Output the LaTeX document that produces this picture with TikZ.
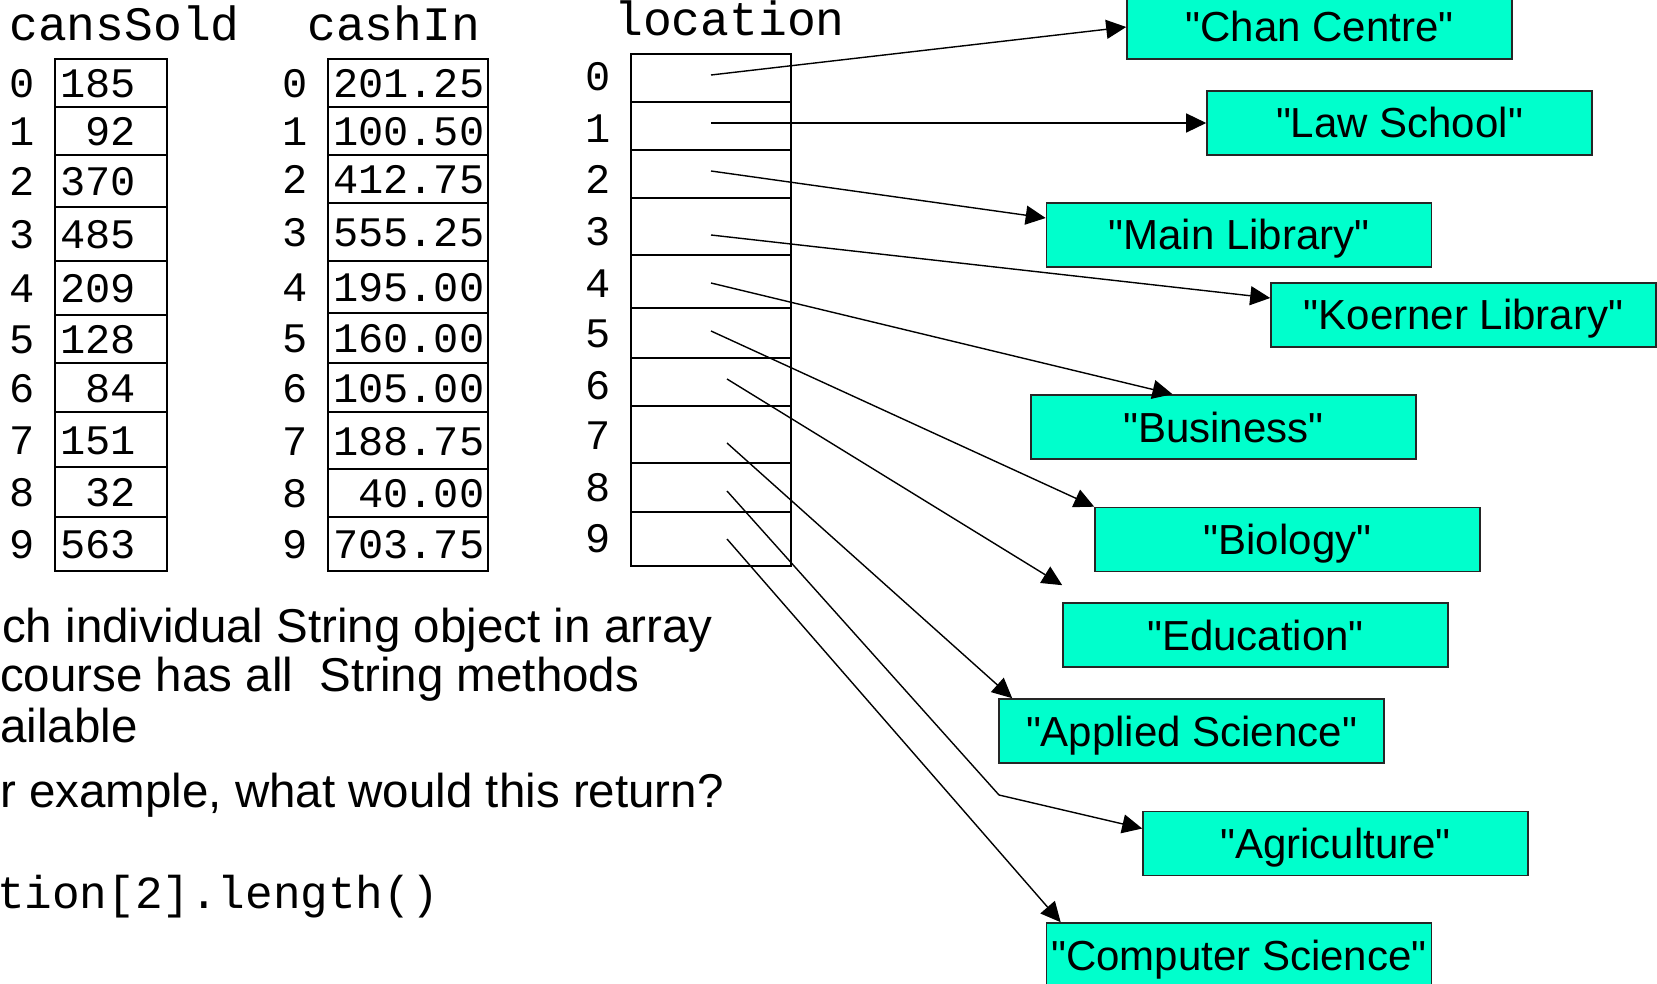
\documentclass[tikz,border=0pt]{standalone}
\usepackage{fontspec}
\setmainfont{Liberation Sans}
\newfontfamily\placef{Liberation Sans}
\newfontfamily\monof{Liberation Mono}
\usetikzlibrary{arrows.meta}
\definecolor{boxgreen}{RGB}{0,255,204}
\begin{document}
\begin{tikzpicture}[x=1pt,y=-1pt,
 every node/.style={inner sep=0pt},
 cellbox/.style={draw=black, line width=1.6pt},
 numtxt/.style={font=\monof\fontsize{42}{48}\selectfont, text height=29pt, text depth=0pt},
 lbl/.style={numtxt, anchor=center},
 title/.style={font=\monof\fontsize{48}{54}\selectfont, anchor=base west},
 place/.style={draw=black!85, line width=1.6pt, fill=boxgreen, minimum width=385pt, minimum height=64pt, font=\placef\fontsize{42}{48}\selectfont, text height=30pt, text depth=0pt},
 arr/.style={line width=1.4pt, -{Triangle[length=20pt,width=19pt]}},
 body/.style={font=\fontsize{47.5}{56}\selectfont, anchor=base west}]
\useasboundingbox (0,0) rectangle (1657,984);

% titles
\node[title] (tcans) at (9,41) {cansSold};
\node[title] (tcash) at (307,41) {cashIn};
\node[title] (tloc) at (614,36) {location};

% cansSold
\foreach \i/\t/\b/\v in {0/59/107/185, 1/107/155/\hphantom{0}92, 2/155/207/370, 3/207/261/485, 4/261/315/209, 5/315/363/128, 6/363/412/\hphantom{0}84, 7/412/467/151, 8/467/517/\hphantom{0}32, 9/517/571/563}{
  \node[cellbox, numtxt, minimum height={(\b-\t)*1pt}, text width=102pt, inner xsep=5pt, align=left] (cs\i) at (111,{(\t+\b)/2}) {\v};
  \node[lbl] (csi\i) at (22,{(\t+\b)/2}) {\i};
}

% cashIn
\foreach \i/\t/\b/\v in {0/59/107/201.25, 1/107/155/100.50, 2/155/203/412.75, 3/203/261/555.25, 4/261/313/195.00, 5/313/363/160.00, 6/363/412/105.00, 7/412/469/188.75, 8/469/517/\hphantom{0}40.00, 9/517/571/703.75}{
  \node[cellbox, numtxt, minimum height={(\b-\t)*1pt}, text width=150pt, inner xsep=5pt, align=left] (ci\i) at (408,{(\t+\b)/2}) {\v};
  \node[lbl] (cii\i) at (295,{(\t+\b)/2}) {\i};
}

% location
\foreach \i/\t/\b/\l in {0/54/102/76, 1/102/150/128, 2/150/198/179, 3/198/255/231, 4/255/308/283, 5/308/358/333, 6/358/406/385, 7/406/463/435, 8/463/512/487, 9/512/566/538}{
  \node[cellbox, minimum width=160pt, minimum height={(\b-\t)*1pt}] (loc\i) at (711,{(\t+\b)/2}) {};
  \node[lbl] (loci\i) at (598,\l) {\i};
}

% place boxes
\node[place] (chan) at (1319.5,27) {"Chan Centre"};
\node[place] (law)  at (1399.5,123) {"Law School"};
\node[place] (main) at (1239,235) {"Main Library"};
\node[place] (koer) at (1463.5,315) {"Koerner Library"};
\node[place] (bus)  at (1223.5,427) {"Business"};
\node[place] (bio)  at (1287.5,539.5) {"Biology"};
\node[place] (edu)  at (1255.5,635) {"Education"};
\node[place] (app)  at (1191.5,731) {"Applied Science"};
\node[place] (agr)  at (1335.5,843.5) {"Agriculture"};
\node[place] (comp) at (1239,955) {"Computer Science"};

% body text
\node[body] (t1) at (2,642) {ch individual String object in array};
\node[body] (t2) at (0,691) {course has all\ \ String methods};
\node[body] (t3) at (0,742) {ailable};
\node[body] (t4) at (0,807) {r example, what would this return?};
\node[font=\monof\fontsize{46}{52}\selectfont, anchor=base west] (t5) at (-3,908) {tion[2].length()};

% arrows
\coordinate (s0) at (711,75);
\coordinate (s1) at (711,123);
\coordinate (s2) at (711,171);
\coordinate (s3) at (711,235);
\coordinate (s4) at (711,283);
\coordinate (s5) at (711,331);
\coordinate (s6) at (727,379);
\coordinate (s7) at (727,443);
\coordinate (s8) at (727,491);
\coordinate (s9) at (727,539);
\coordinate (bend) at (999,795);
\draw[arr] (s0) -- (chan.west);
\draw[arr] (s1) -- (law.west);
\draw[arr] (s2) -- ([yshift=17pt]main.west);
\draw[arr] (s3) -- ([yshift=17pt]koer.west);
\draw[arr] (s4) -- ([xshift=-51pt]bus.north);
\draw[arr] (s5) -- (bio.north west);
\draw[arr] (s6) -- ([yshift=17pt]edu.north west);
\draw[arr] (s7) -- ([xshift=14pt]app.north west);
\draw[arr] (s8) -- (bend) -- ([yshift=15pt]agr.west);
\draw[arr] (s9) -- ([xshift=15pt]comp.north west);
\end{tikzpicture}
\end{document}
